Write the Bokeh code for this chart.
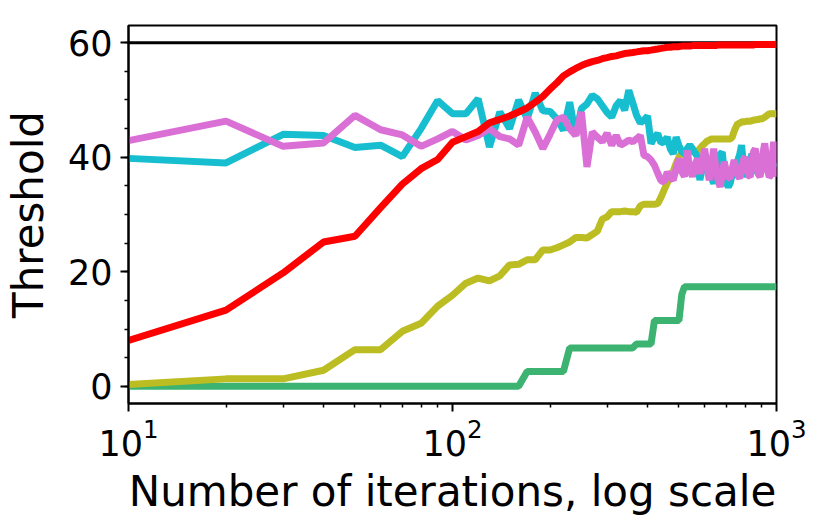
from bokeh.plotting import figure
from bokeh.models import Range1d, FixedTicker, SingleIntervalTicker, LogTickFormatter
from bokeh.embed import file_html
from bokeh.resources import INLINE

# x values: iterations 10, 20, ..., 1000
iterations = list(range(10, 1001, 10))

x_major_ticks = [10, 100, 1000]
x_minor_ticks = [20, 30, 40, 50, 60, 70, 80, 90, 200, 300, 400, 500, 600, 700, 800, 900]

red_vals = [8.0, 13.3, 19.8, 25.2, 26.2, 31.2, 35.3, 38.0, 39.6, 42.6,
            43.6, 44.5, 46.0, 46.6, 47.2, 47.9, 48.6, 49.6, 50.6, 51.9,
            53.0, 54.2, 54.9, 55.5, 56.0, 56.4, 56.7, 56.9, 57.2, 57.4,
            57.6, 57.7, 57.9, 58.1, 58.2, 58.3, 58.4, 58.5, 58.6, 58.6,
            58.7, 58.8, 58.9, 59.0, 59.1, 59.2, 59.2, 59.3, 59.3, 59.3,
            59.4, 59.4, 59.4, 59.4, 59.5, 59.5, 59.5, 59.5, 59.5, 59.5,
            59.5, 59.5, 59.5, 59.5, 59.5, 59.6, 59.6, 59.6, 59.6, 59.6,
            59.6, 59.6, 59.6, 59.6, 59.6, 59.6, 59.6, 59.6, 59.6, 59.6,
            59.6, 59.6, 59.6, 59.6, 59.6, 59.7, 59.7, 59.7, 59.7, 59.7,
            59.7, 59.7, 59.7, 59.7, 59.7, 59.7, 59.7, 59.7, 59.7, 59.7]

cyan_vals = [39.8, 39.0, 44.0, 43.8, 41.7, 42.1, 40.1, 45.0, 49.9, 47.6,
             47.6, 50.2, 41.8, 47.9, 45.0, 50.0, 46.7, 51.2, 48.1, 48.0,
             46.7, 44.7, 49.6, 43.8, 48.5, 49.3, 50.8, 50.2, 49.0, 47.8,
             47.0, 49.0, 49.9, 48.2, 51.7, 49.5, 47.3, 46.0, 46.5, 47.2,
             42.4, 43.5, 44.1, 42.5, 42.7, 43.5, 41.5, 40.6, 43.5, 42.0,
             41.0, 40.6, 41.5, 42.1, 41.5, 40.8, 40.1, 36.0, 38.0, 38.5,
             39.5, 38.0, 36.5, 35.4, 37.5, 39.0, 40.5, 40.9, 37.5, 35.5,
             34.8, 35.5, 37.0, 38.2, 38.9, 39.5, 40.5, 42.1, 39.0, 37.5,
             36.6, 38.0, 39.5, 40.6, 39.5, 38.0, 37.5, 37.1, 38.5, 39.5,
             40.5, 41.2, 40.5, 39.5, 38.5, 38.3, 39.0, 38.5, 38.5, 38.3]

pink_vals = [42.9, 46.3, 41.9, 42.5, 47.3, 44.8, 43.9, 41.9, 43.2, 44.5,
             43.0, 43.8, 45.0, 43.6, 43.2, 42.1, 47.0, 44.4, 41.5, 44.0,
             46.5, 47.0, 45.0, 43.8, 47.9, 38.3, 44.4, 43.5, 42.7, 44.2,
             42.1, 43.8, 42.1, 42.5, 43.0, 42.7, 43.2, 43.8, 40.3, 40.1,
             39.5, 38.6, 37.2, 35.9, 35.7, 37.4, 36.5, 36.0, 38.0, 39.8,
             37.5, 36.6, 41.2, 38.0, 36.6, 38.5, 39.8, 37.1, 39.0, 41.5,
             38.5, 36.0, 38.5, 41.5, 38.0, 36.0, 34.8, 37.0, 39.2, 37.5,
             36.5, 36.3, 38.0, 39.5, 38.0, 36.8, 36.3, 38.0, 39.5, 40.1,
             38.0, 36.8, 36.6, 39.0, 41.0, 41.5, 39.0, 37.0, 36.6, 38.5,
             41.0, 42.4, 40.0, 37.5, 36.6, 36.8, 40.0, 42.7, 39.5, 36.6]

olive_vals = [0.3, 1.3, 1.3, 2.8, 6.4, 6.4, 9.6, 11.0, 14.0, 15.9,
              18.0, 18.9, 18.4, 19.3, 21.2, 21.3, 22.1, 22.1, 23.8, 23.8,
              24.2, 24.7, 25.2, 26.0, 26.0, 25.9, 26.5, 27.1, 29.2, 29.6,
              30.5, 30.5, 30.5, 30.6, 30.5, 30.5, 30.4, 31.5, 31.8, 31.8,
              31.8, 31.8, 31.9, 33.0, 34.3, 35.5, 36.6, 37.5, 38.9, 40.0,
              40.9, 40.9, 40.9, 40.9, 41.0, 41.0, 40.9, 41.5, 42.0, 42.4,
              42.8, 43.0, 43.2, 43.2, 43.2, 43.2, 43.2, 43.2, 43.2, 43.2,
              43.2, 43.2, 43.5, 44.5, 45.3, 45.9, 45.9, 46.2, 46.2, 46.2,
              46.3, 46.3, 46.3, 46.4, 46.5, 46.5, 46.6, 46.6, 46.7, 46.7,
              46.8, 47.0, 47.2, 47.4, 47.6, 47.6, 47.6, 47.6, 47.6, 47.6]

green_vals = [0.0] * 16 + [2.6] * 6 + [6.7] * 14 + [7.4] * 5 + [11.5] * 9 + [16.0] + [17.4] * 49

upper_bound = [60.0] * len(iterations)

p = figure(frame_width=648, frame_height=378, x_axis_type="log",
           x_range=Range1d(10, 1000), y_range=Range1d(-3, 63),
           output_backend="svg", toolbar_location=None,
           min_border_left=127, min_border_right=44,
           min_border_top=25, min_border_bottom=113)

p.xgrid.visible = False
p.ygrid.visible = False
p.background_fill_color = "white"
p.border_fill_color = "white"
p.outline_line_color = "black"
p.outline_line_width = 2
p.outline_line_alpha = 1.0

lw = 7
p.line(iterations, upper_bound, line_color="black", line_width=3)
p.line(iterations, green_vals, line_color="#3cb371", line_width=lw)
p.line(iterations, olive_vals, line_color="#bcbd22", line_width=lw)
p.line(iterations, cyan_vals, line_color="#17becf", line_width=lw)
p.line(iterations, pink_vals, line_color="#da70d6", line_width=lw)
p.line(iterations, red_vals, line_color="#ff0000", line_width=lw)

p.xaxis.ticker = FixedTicker(ticks=x_major_ticks, minor_ticks=x_minor_ticks)
p.xaxis.formatter = LogTickFormatter()
p.yaxis.ticker = SingleIntervalTicker(interval=20, num_minor_ticks=4)

for ax in (p.xaxis[0], p.yaxis[0]):
    ax.axis_line_width = 2
    ax.axis_line_color = "black"
    ax.major_tick_line_width = 2
    ax.minor_tick_line_width = 1.5
    ax.major_tick_in = 0
    ax.minor_tick_in = 0
    ax.major_tick_out = 8
    ax.minor_tick_out = 4
    ax.major_label_text_font = "DejaVu Sans"
    ax.major_label_text_font_size = "35px"
    ax.major_label_text_color = "black"
    ax.axis_label_text_font = "DejaVu Sans"
    ax.axis_label_text_font_size = "42px"
    ax.axis_label_text_font_style = "normal"
    ax.axis_label_text_color = "black"

p.yaxis.axis_label = "Threshold"
p.xaxis.axis_label = "Number of iterations, log scale"
p.yaxis.major_label_standoff = 8
p.xaxis.major_label_standoff = 6
p.yaxis.axis_label_standoff = 12
p.xaxis.axis_label_standoff = 8

open("out.html", "w").write(file_html(p, INLINE))
